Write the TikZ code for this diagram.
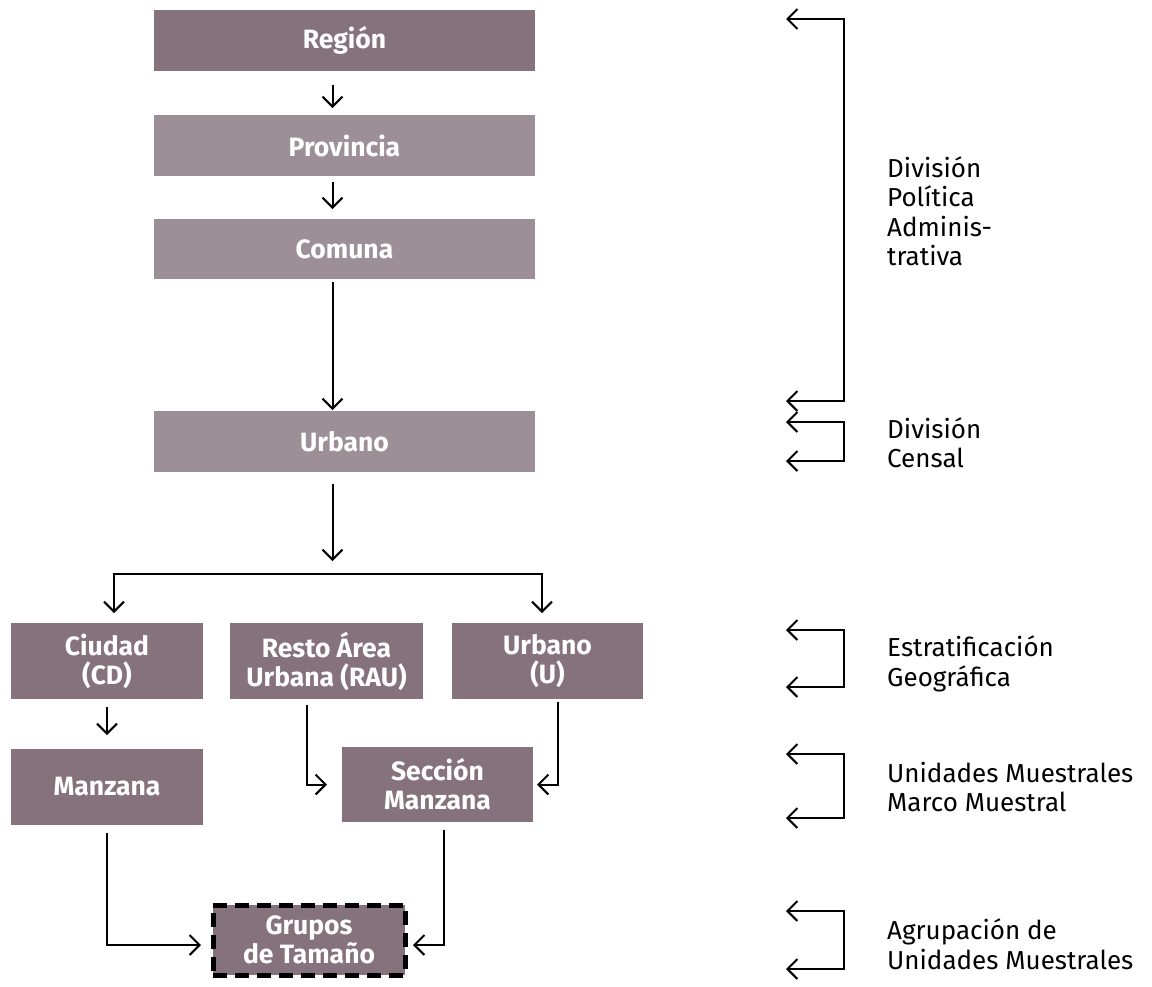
\documentclass[tikz,border=0pt]{standalone}
\usepackage{fontspec}
\setmainfont{Fira Sans}
\usetikzlibrary{arrows.meta}
\definecolor{boxdark}{HTML}{86727C}
\definecolor{boxlight}{HTML}{9D8F97}
\tikzset{
  box/.style={fill=boxdark, inner sep=0pt, outer sep=0pt, text=white,
    font=\fontsize{26.5}{29}\selectfont\bfseries, align=center},
  lightbox/.style={box, fill=boxlight},
  tip/.tip={Straight Barb[length=10pt,width=20pt]},
  conn/.style={line width=2pt, -tip},
  bracket/.style={line width=2pt, tip-tip},
  lbl/.style={anchor=west, align=left, inner sep=0pt, text=black,
    font=\fontsize{26}{29.5}\selectfont}
}
\begin{document}
\begin{tikzpicture}[x=1pt,y=-1pt]
\useasboundingbox (0,0) rectangle (1152,986);

% boxes
\node[box, minimum width=381pt, minimum height=61pt] (region) at (344.5,40.5) {Región};
\node[lightbox, minimum width=381pt, minimum height=61pt] (provincia) at (344.5,145.5) {Provincia};
\node[lightbox, minimum width=381pt, minimum height=60pt] (comuna) at (344.5,249) {Comuna};
\node[lightbox, minimum width=381pt, minimum height=61pt] (urbano) at (344.5,441.5) {Urbano};
\node[box, minimum width=192pt, minimum height=76pt] (ciudad) at (107,661) {Ciudad\\(CD)};
\node[box, minimum width=193pt, minimum height=76pt] (rau) at (326.5,661) {Resto Área\\Urbana (RAU)};
\node[box, minimum width=191pt, minimum height=76pt] (urbanou) at (547.5,661) {Urbano\\(U)};
\node[box, minimum width=192pt, minimum height=76pt] (manzana) at (107,787) {Manzana};
\node[box, minimum width=191pt, minimum height=75pt] (seccion) at (437.5,784.5) {Sección\\Manzana};
\node[box, minimum width=192pt, minimum height=70pt, draw=black, line width=5pt,
      dash pattern=on 14pt off 8pt] (grupos) at (309,940) {Grupos\\de Tamaño};

% connectors
\draw[conn] ([xshift=-12pt,yshift=-14pt]region.south) -- ([xshift=-12pt,yshift=7pt]provincia.north);
\draw[conn] ([xshift=-12pt,yshift=-6pt]provincia.south) -- ([xshift=-12pt,yshift=10pt]comuna.north);
\draw[conn] ([xshift=-12pt,yshift=-3pt]comuna.south) -- ([xshift=-12pt,yshift=1pt]urbano.north);
\coordinate (split) at (332.5,561);
\draw[conn] ([xshift=-12pt,yshift=-12pt]urbano.south) -- (split);
\coordinate (bl) at (114,574);
\coordinate (br) at (542,574);
\draw[bracket] ([xshift=7pt,yshift=10pt]ciudad.north) -- (bl) -- (br) -- ([xshift=-5.5pt,yshift=10pt]urbanou.north);
\draw[conn] ([yshift=-8pt]ciudad.south) -- ([yshift=14pt]manzana.north);
\draw[conn] ([xshift=-19.5pt,yshift=-6pt]rau.south) |- ([xshift=-15pt]seccion.west);
\draw[conn] ([xshift=10.5pt,yshift=-3pt]urbanou.south) |- ([xshift=4pt]seccion.east);
\draw[conn] ([yshift=-8pt]manzana.south) |- ([xshift=-12pt,yshift=-5pt]grupos.west);
\draw[conn] ([xshift=6.5pt,yshift=-8pt]seccion.south) |- ([xshift=8pt,yshift=-5pt]grupos.east);

% right-hand brackets
\coordinate (a1) at (786,19);  \coordinate (c1) at (844,19);
\coordinate (c2) at (844,401); \coordinate (a2) at (786,401);
\draw[bracket] (a1) -- (c1) -- (c2) -- (a2);
\coordinate (a3) at (786,422); \coordinate (c3) at (844,422);
\coordinate (c4) at (844,461); \coordinate (a4) at (786,461);
\draw[bracket] (a3) -- (c3) -- (c4) -- (a4);
\coordinate (a5) at (786,630); \coordinate (c5) at (844,630);
\coordinate (c6) at (844,687); \coordinate (a6) at (786,687);
\draw[bracket] (a5) -- (c5) -- (c6) -- (a6);
\coordinate (a7) at (786,754); \coordinate (c7) at (844,754);
\coordinate (c8) at (844,818); \coordinate (a8) at (786,818);
\draw[bracket] (a7) -- (c7) -- (c8) -- (a8);
\coordinate (a9) at (786,911); \coordinate (c9) at (844,911);
\coordinate (c10) at (844,969); \coordinate (a10) at (786,969);
\draw[bracket] (a9) -- (c9) -- (c10) -- (a10);

% labels
\node[lbl] (ldpa) at (887,211) {División\\Política\\Adminis-\\trativa};
\node[lbl] (lcen) at (887,442.5) {División\\Censal};
\node[lbl] (lest) at (887,664) {Estratificación\\Geográfica};
\node[lbl] (lum) at (887,787) {Unidades Muestrales\\Marco Muestral};
\node[lbl] (lagr) at (887,944) {Agrupación de\\Unidades Muestrales};
\end{tikzpicture}
\end{document}
